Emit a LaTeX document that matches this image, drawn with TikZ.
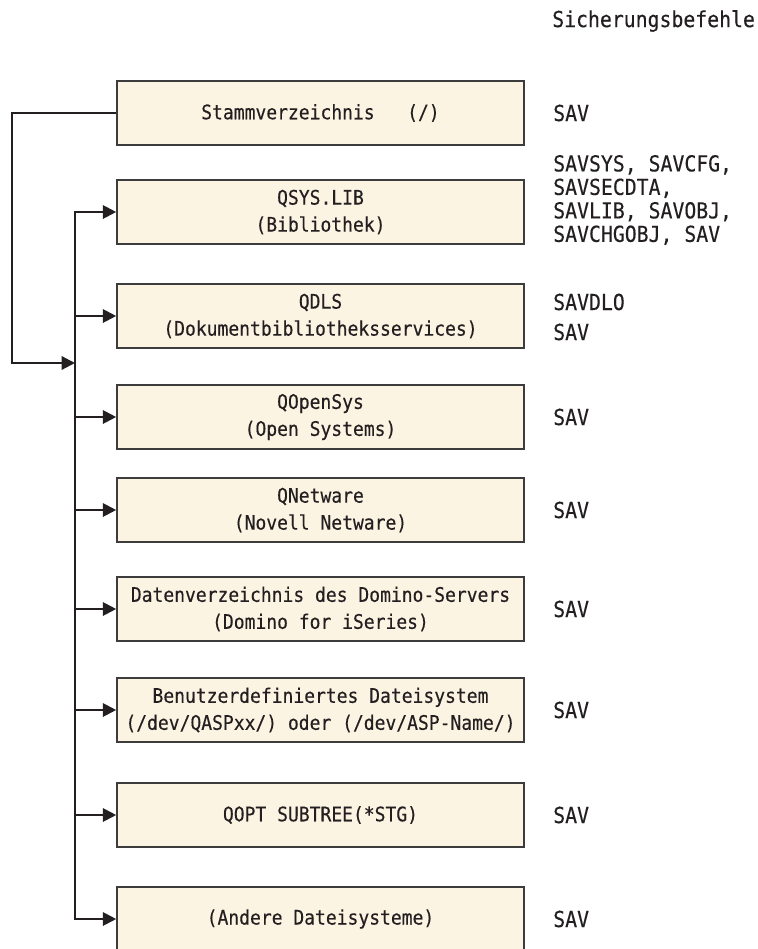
\documentclass[tikz,border=0pt]{standalone}
\usepackage{fontspec}
\setmonofont[FakeStretch=0.9, FakeBold=0.3]{DejaVu Sans Mono}
\usetikzlibrary{arrows.meta}

\definecolor{kasten}{HTML}{FCF4E3}
\definecolor{rand}{HTML}{3C3C3C}
\definecolor{linie}{HTML}{231F20}

\tikzset{
  fsbox/.style={draw=rand, line width=1.2pt, fill=kasten, minimum width=305.25pt,
    minimum height=48pt, inner sep=0pt, align=center, text=linie,
    font=\ttfamily\fontsize{15}{20.25}\selectfont},
  befehl/.style={anchor=west, inner sep=0pt, align=left, text=linie,
    font=\ttfamily\fontsize{16.5}{17.6}\selectfont},
  pfeil/.style={-{Triangle[length=10pt,width=10pt]}, line width=1.6pt, draw=linie}
}

\begin{document}
\begin{tikzpicture}[x=0.75pt, y=-0.75pt]
    \useasboundingbox (0,0) rectangle (757,949);

    \node[befehl] (titel) at (552,21) {Sicherungsbefehle};

    % Dateisysteme
    \node[fsbox] (stamm) at (320.5,113) {Stammverzeichnis~~~(/)};
    \node[fsbox] (qsys) at (320.5,212) {QSYS.LIB\\(Bibliothek)};
    \node[fsbox] (qdls) at (320.5,316) {QDLS\\(Dokumentbibliotheksservices)};
    \node[fsbox] (qopensys) at (320.5,417) {QOpenSys\\(Open Systems)};
    \node[fsbox] (qnetware) at (320.5,510) {QNetware\\(Novell Netware)};
    \node[fsbox] (domino) at (320.5,609) {Datenverzeichnis des Domino-Servers\\(Domino for iSeries)};
    \node[fsbox] (udfs) at (320.5,710) {Benutzerdefiniertes Dateisystem\\(/dev/QASPxx/) oder (/dev/ASP-Name/)};
    \node[fsbox] (qopt) at (320.5,815) {QOPT SUBTREE(*STG)};
    \node[fsbox] (andere) at (320.5,919) {(Andere Dateisysteme)};

    % Befehle
    \node[befehl] (savstamm) at (553,113) {SAV};
    \node[befehl] (savqsys) at (553,200) {SAVSYS, SAVCFG,\\SAVSECDTA,\\SAVLIB, SAVOBJ,\\SAVCHGOBJ, SAV};
    \node[befehl, font=\ttfamily\fontsize{16.5}{22.5}\selectfont] (savqdls) at (553,317) {SAVDLO\\SAV};
    \foreach \fs in {qopensys, qnetware, domino, udfs, qopt, andere}
        \node[befehl] (sav\fs) at (553,0 |- \fs.center) {SAV};

    % Verbindungen
    \coordinate (aussen) at (12,0);
    \coordinate (trunk) at (75,0);
    \coordinate (einstieg) at (75,363);

    \draw[pfeil] (stamm.west) -- (stamm.west -| aussen) |- (einstieg);
    \draw[line width=1.6pt, linie, line cap=rect] (qsys.west -| trunk) -- (andere.west -| trunk);
    \foreach \ziel in {qsys, qdls, qopensys, qnetware, domino, udfs, qopt, andere}
        \draw[pfeil] (\ziel.west -| trunk) -- (\ziel.west);
\end{tikzpicture}
\end{document}
